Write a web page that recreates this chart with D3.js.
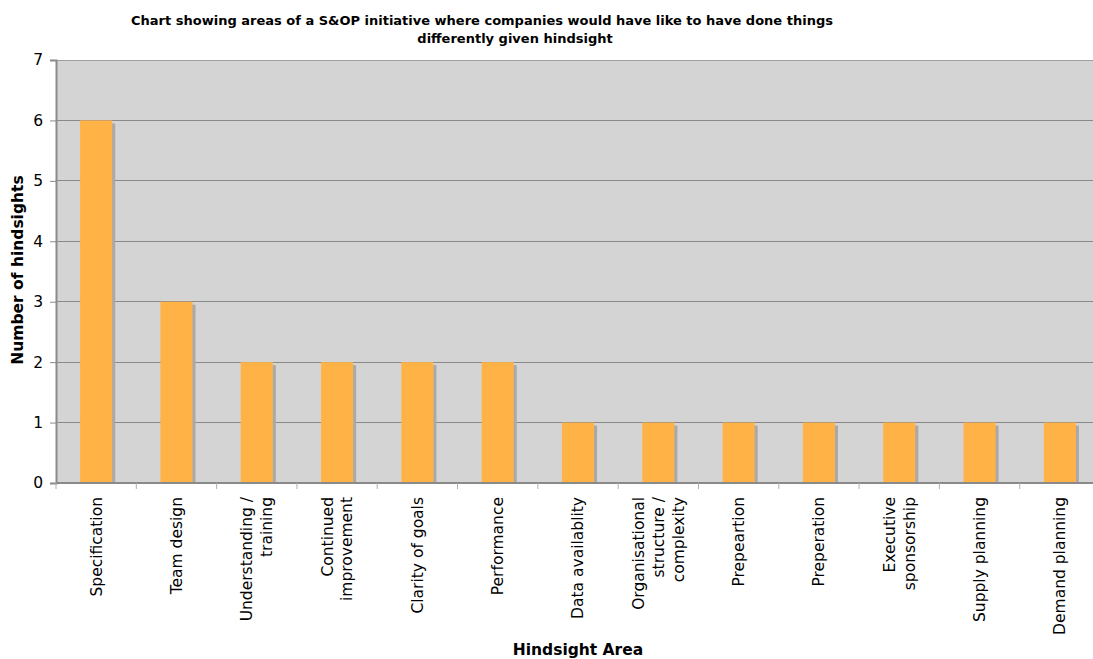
<!DOCTYPE html>
<html>
<head>
<meta charset="utf-8">
<script src="https://cdn.jsdelivr.net/npm/d3@7"></script>
<style>
  html, body { margin: 0; padding: 0; background: #fff; }
  svg { display: block; font-family: "DejaVu Sans", Verdana, sans-serif; }
</style>
</head>
<body>
<svg id="chart" width="1093" height="659"></svg>
<script>
// Hindsight areas (each label split into its display lines) and counts
const categories = [
  ["Specification"],
  ["Team design"],
  ["Understanding /", "training"],
  ["Continued", "improvement"],
  ["Clarity of goals"],
  ["Performance"],
  ["Data availablity"],
  ["Organisational", "structure /", "complexity"],
  ["Prepeartion"],
  ["Preperation"],
  ["Executive", "sponsorship"],
  ["Supply planning"],
  ["Demand planning"]
];
const hindsights = [6, 3, 2, 2, 2, 2, 1, 1, 1, 1, 1, 1, 1];
const yTicks = [0, 1, 2, 3, 4, 5, 6, 7];
const titleLines = [
  "Chart showing areas of a S&OP initiative where companies would have like to have done things",
  "differently given hindsight"
];

const svg = d3.select("#chart");
const plot = { left: 56, right: 1100, top: 60, bottom: 483 };

const keys = categories.map((c, i) => i);
const x = d3.scaleBand().domain(keys).range([plot.left, plot.right]).paddingInner(0.6).paddingOuter(0.3);
const xTick = d3.scaleBand().domain(keys).range([plot.left, plot.right]);
const y = d3.scaleLinear().domain([0, 7]).range([plot.bottom, plot.top]);

// Plot background
svg.append("rect")
  .attr("x", plot.left).attr("y", plot.top)
  .attr("width", plot.right - plot.left).attr("height", plot.bottom - plot.top)
  .attr("fill", "#d4d4d4");

// Horizontal gridlines
svg.append("g").selectAll("line")
  .data(yTicks.filter(t => t > 0))
  .join("line")
  .attr("x1", plot.left).attr("x2", plot.right)
  .attr("y1", d => y(d)).attr("y2", d => y(d))
  .attr("stroke", d => d === 7 ? "#a0a0a0" : "#8a8a8a")
  .attr("stroke-width", 1)
  .attr("shape-rendering", "crispEdges");

// Bar shadows
svg.append("g").selectAll("rect")
  .data(hindsights)
  .join("rect")
  .attr("x", (d, i) => x(i) + 3)
  .attr("y", d => y(d) + 3)
  .attr("width", x.bandwidth())
  .attr("height", d => plot.bottom - y(d) - 3)
  .attr("fill", "#a9a9a9");

// Bars
svg.append("g").selectAll("rect")
  .data(hindsights)
  .join("rect")
  .attr("x", (d, i) => x(i))
  .attr("y", d => y(d))
  .attr("width", x.bandwidth())
  .attr("height", d => plot.bottom - y(d))
  .attr("fill", "#ffb347");

// Y axis
const yAxis = d3.axisLeft(y).tickValues(yTicks).tickSize(6).tickPadding(7).tickFormat(d3.format("d"));
const gy = svg.append("g").attr("transform", `translate(${plot.left},0)`).call(yAxis);
gy.select(".domain").attr("stroke", "#8a8a8a").attr("stroke-width", 2);
gy.selectAll(".tick line").attr("stroke", "#8a8a8a");
gy.selectAll(".tick text").attr("font-size", 15.5).attr("fill", "#000")
  .attr("font-family", "DejaVu Sans, Verdana, sans-serif");

// X axis baseline and category ticks
svg.append("line")
  .attr("x1", plot.left).attr("x2", plot.right)
  .attr("y1", plot.bottom).attr("y2", plot.bottom)
  .attr("stroke", "#8a8a8a").attr("stroke-width", 2);
svg.append("g").selectAll("line")
  .data(keys)
  .join("line")
  .attr("x1", d => xTick(d)).attr("x2", d => xTick(d))
  .attr("y1", plot.bottom).attr("y2", plot.bottom + 6)
  .attr("stroke", "#b0b0b0");

// Rotated category labels, lines right-aligned to the axis
const lineGap = 20;
const labels = svg.append("g").selectAll("g")
  .data(categories)
  .join("g")
  .attr("transform", (d, i) => `translate(${x(i) + x.bandwidth() / 2},497) rotate(-90)`);
labels.each(function(lines) {
  const g = d3.select(this);
  const n = lines.length;
  lines.forEach((ln, j) => {
    g.append("text")
      .attr("x", 0)
      .attr("y", (j - (n - 1) / 2) * lineGap)
      .attr("dy", "0.35em")
      .attr("text-anchor", "end")
      .attr("font-size", 15.5)
      .attr("fill", "#000")
      .text(ln);
  });
});

// Title
svg.append("text").attr("x", 482).attr("y", 25)
  .attr("text-anchor", "middle").attr("font-weight", "bold").attr("font-size", 13)
  .text(titleLines[0]);
svg.append("text").attr("x", 515).attr("y", 43)
  .attr("text-anchor", "middle").attr("font-weight", "bold").attr("font-size", 13)
  .text(titleLines[1]);

// Axis titles
svg.append("text")
  .attr("transform", "translate(23,270) rotate(-90)")
  .attr("text-anchor", "middle").attr("font-weight", "bold").attr("font-size", 15.5)
  .text("Number of hindsights");
svg.append("text")
  .attr("x", 578).attr("y", 655)
  .attr("text-anchor", "middle").attr("font-weight", "bold").attr("font-size", 15.5)
  .text("Hindsight Area");
</script>
</body>
</html>
